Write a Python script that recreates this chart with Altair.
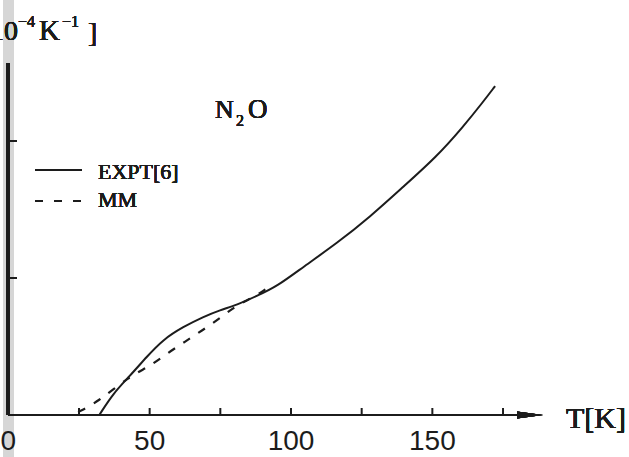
import altair as alt
import pandas as pd

# ---- data ----
T_expt = [32.2, 37.1, 43.0, 49.0, 54.8, 61.9, 69.0, 74.9, 80.8, 87.9, 94.9,
          104.4, 116.2, 128.0, 139.7, 151.5, 160.9, 168.0, 172.2]
a_expt = [0.0, 0.158, 0.285, 0.426, 0.552, 0.644, 0.717, 0.766, 0.803, 0.869, 0.936,
          1.082, 1.253, 1.447, 1.666, 1.885, 2.104, 2.287, 2.401]
T_mm = [24.7, 31.3, 43.0, 49.9, 56.2, 62.5, 68.4, 74.9, 80.8, 87.9, 93.7]
a_mm = [0.022, 0.090, 0.285, 0.353, 0.450, 0.535, 0.615, 0.706, 0.803, 0.869, 0.961]
x_ticks = [25, 50, 75, 100, 125, 150, 175]
x_labels = [0, 50, 100, 150]
y_ticks = [1, 2]

expt = pd.DataFrame({"T": T_expt, "a": a_expt})
mm = pd.DataFrame({"T": T_mm, "a": a_mm})
xt = pd.DataFrame({"T": x_ticks})
xl = pd.DataFrame({"T": x_labels, "lab": [str(v) for v in x_labels]})
yt = pd.DataFrame({"a": y_ticks})

W, H = 629, 457
xs = alt.Scale(domain=[-2.936, 219.56], nice=False, zero=False)
ys = alt.Scale(domain=[-0.3066, 3.0292], nice=False, zero=False)
INK = "#1c1c1c"
SERIF = "Liberation Serif"
SANS = "Liberation Sans"

X = alt.X("T:Q", scale=xs, axis=None)
Y = alt.Y("a:Q", scale=ys, axis=None)

# scanner shadow strip on the left
strip = alt.Chart(xt).mark_rect(color="#d6d6d6", opacity=0.7).encode(
    x=alt.value(3), x2=alt.value(14), y=alt.value(0), y2=alt.value(H))

# axes drawn as rules
y_axis = alt.Chart(xt).mark_rule(color=INK, strokeWidth=3).encode(
    x=alt.value(8), y=alt.value(63), y2=alt.value(415))
x_axis = alt.Chart(xt).mark_rule(color=INK, strokeWidth=2).encode(
    x=alt.value(8), x2=alt.value(524), y=alt.value(415))
arrow = alt.Chart(xt).mark_point(
    shape="M-1,-0.27L1,0L-1,0.27Z", filled=True, color=INK, opacity=1, size=676
).encode(x=alt.value(530), y=alt.value(415))

xtick = alt.Chart(xt).mark_rule(color=INK, strokeWidth=2).encode(
    x=X, y=alt.value(408), y2=alt.value(415))
ytick = alt.Chart(yt).mark_rule(color=INK, strokeWidth=2).encode(
    y=Y, x=alt.value(8), x2=alt.value(17))

xlab = alt.Chart(xl).mark_text(font=SANS, fontSize=28, fontWeight="normal", color=INK,
                               baseline="alphabetic", align="center").encode(
    x=X, y=alt.value(450), text="lab:N")

# curves
line_expt = alt.Chart(expt).mark_line(interpolate="basis", strokeWidth=2, color=INK).encode(x=X, y=Y)
line_mm = alt.Chart(mm).mark_line(interpolate="basis", strokeWidth=2.2, color=INK,
                                  strokeDash=[8, 10]).encode(x=X, y=Y)

# legend
leg_solid = alt.Chart(xt).mark_rule(color=INK, strokeWidth=2).encode(
    x=alt.value(35), x2=alt.value(82), y=alt.value(170))
leg_dash = alt.Chart(xt).mark_rule(color=INK, strokeWidth=2.2, strokeDash=[8, 11]).encode(
    x=alt.value(35), x2=alt.value(84), y=alt.value(201))


def txt(s, x, y, size, font=SERIF, align="left"):
    return alt.Chart(xt).mark_text(text=s, font=font, fontSize=size, fontWeight="normal",
                                   color=INK, align=align, baseline="alphabetic").encode(
        x=alt.value(x), y=alt.value(y))


texts = [
    txt("EXPT[6]", 98, 179, 22),
    txt("MM", 98, 207, 22),
    txt("N", 215, 118, 26),
    txt("2", 236, 126, 16),
    txt("O", 248, 118, 27),
    txt("T[K]", 566, 428, 30),
    # unit label (left part cut off by the page edge, as in the scan)
    txt("[10", 18, 40, 28, align="right"),
    txt("\u22124", 18, 27, 16),
    txt("K", 39, 40, 29),
    txt("\u22121", 62, 27, 16),
    txt("]", 88, 42, 28),
]

chart = alt.layer(strip, line_mm, line_expt, y_axis, x_axis, arrow, xtick, ytick, xlab,
                  leg_solid, leg_dash, *texts).properties(
    width=W, height=H, padding=0, autosize="none", background="white"
).configure_view(strokeWidth=0)

chart.save("out.html", embed_options={"renderer": "svg", "actions": False})
